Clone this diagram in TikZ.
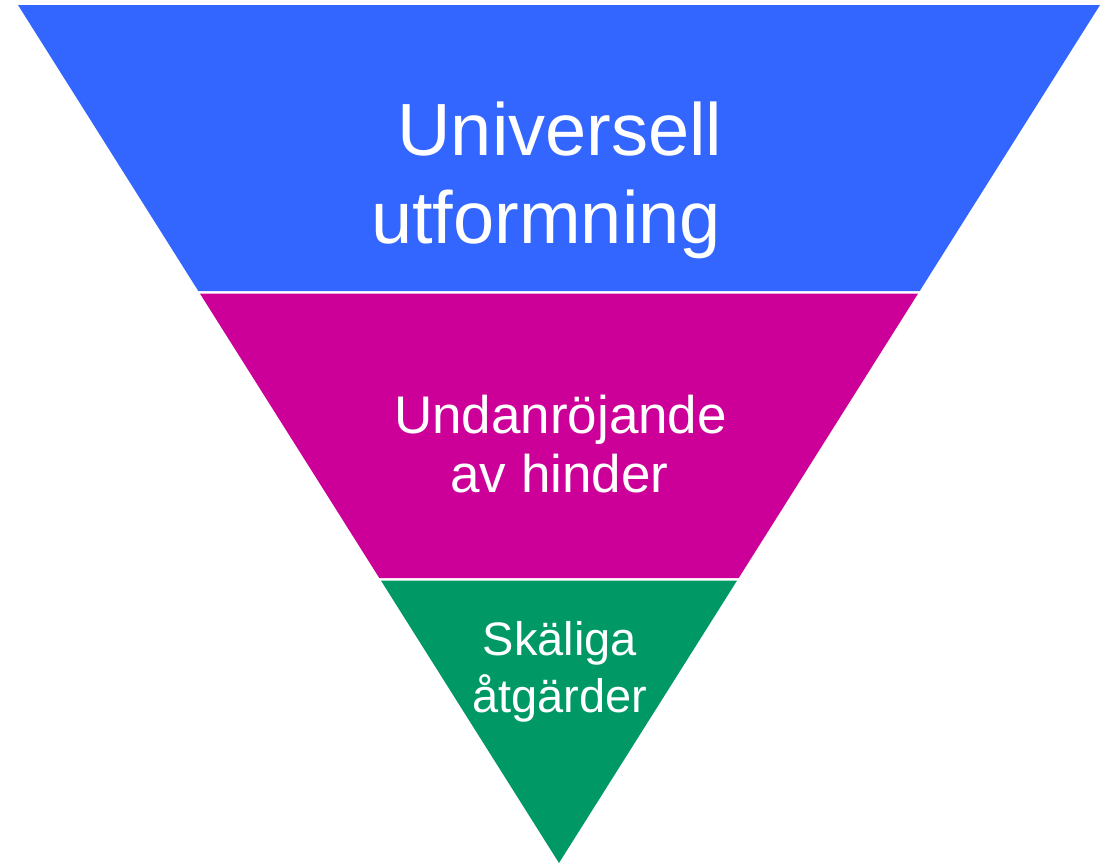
\documentclass[tikz,border=0pt]{standalone}
\usepackage{fontspec}
\setmainfont{Liberation Sans}
\usepackage{tikz}
\definecolor{bandblue}{HTML}{3366FF}
\definecolor{bandmagenta}{HTML}{CC0099}
\definecolor{bandgreen}{HTML}{009966}

\begin{document}
\begin{tikzpicture}[x=1pt, y=-1pt,
    lbl/.style={text=white, inner sep=0pt, anchor=base}]
        \useasboundingbox (0,0) rectangle (1106,865);
        % corners of the bands
        \coordinate (tl) at (18,5);
        \coordinate (tr) at (1100,5);
        \coordinate (b1l) at (198.3,291);
        \coordinate (b1r) at (919.7,291);
        \coordinate (m1l) at (199.9,293.5);
        \coordinate (m1r) at (918.1,293.5);
        \coordinate (b2l) at (379.3,578);
        \coordinate (b2r) at (738.7,578);
        \coordinate (g1l) at (380.9,580.5);
        \coordinate (g1r) at (737.1,580.5);
        \coordinate (apex) at (559,863);
        \fill [bandblue] (tl)--(tr)--(b1r)--(b1l)--cycle;
        \fill [bandmagenta] (m1l)--(m1r)--(b2r)--(b2l)--cycle;
        \fill [bandgreen] (g1l)--(g1r)--(apex)--cycle;
        \node [lbl, font=\fontsize{74}{88}\selectfont] (u1) at (560,155) {Universell};
        \node [lbl, font=\fontsize{74}{88}\selectfont] (u2) at (546,243) {utformning};
        \node [lbl, font=\fontsize{53}{60}\selectfont] (h1) at (560.5,433) {Undanröjande};
        \node [lbl, font=\fontsize{53}{60}\selectfont] (h2) at (559.5,492) {av hinder};
        \node [lbl, font=\fontsize{47}{57}\selectfont] (s1) at (560,655) {Skäliga};
        \node [lbl, font=\fontsize{47}{57}\selectfont] (s2) at (560,712) {åtgärder};
      \end{tikzpicture}
\end{document}
